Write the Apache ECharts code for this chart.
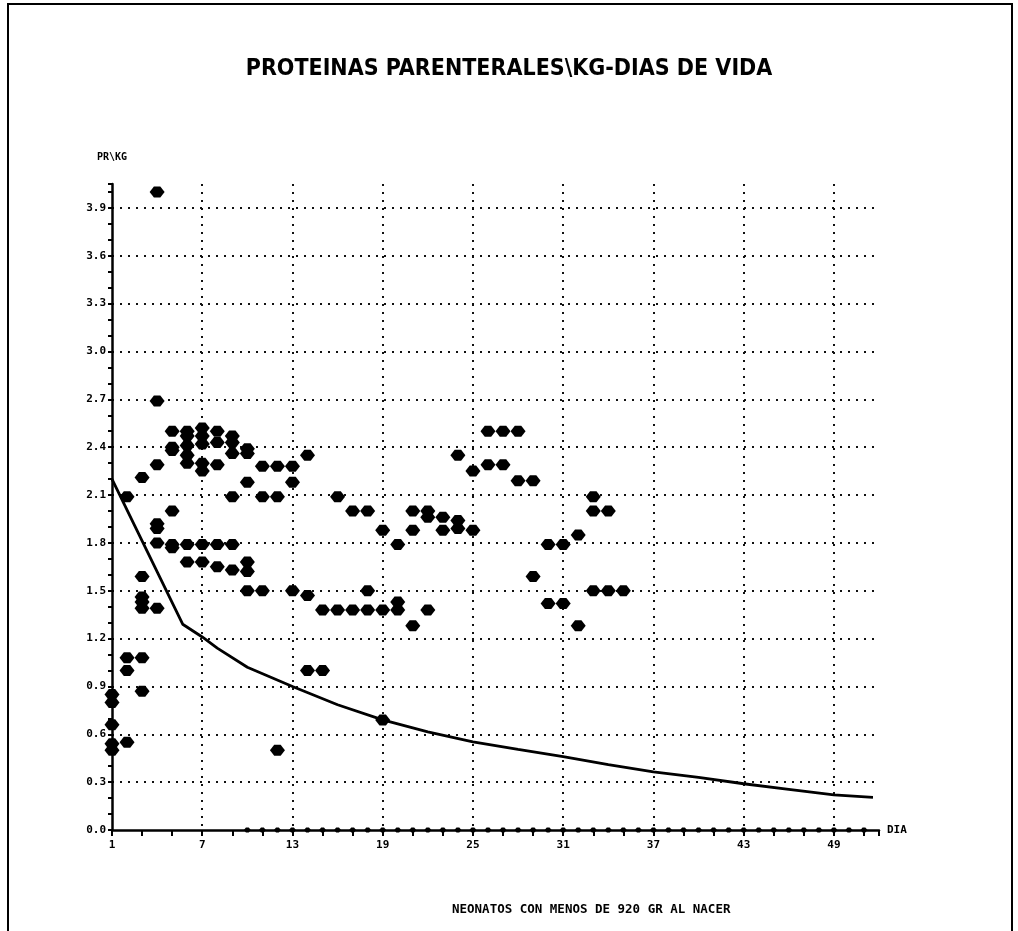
<!DOCTYPE html>
<html>
<head>
<meta charset="utf-8">
<script src="https://cdn.jsdelivr.net/npm/echarts@6/dist/echarts.min.js"></script>
<style>
  html, body { margin: 0; padding: 0; background: #fff; }
  #chart { width: 1018px; height: 931px; }
</style>
</head>
<body>
<div id="chart"></div>
<script>
  // puntos (dia, proteinas/kg)
  var scatterDays = [
    1, 1, 1, 1, 1,
    2, 2, 2, 2,
    3, 3, 3, 3, 3, 3, 3,
    4, 4, 4, 4, 4, 4, 4,
    5, 5, 5, 5, 5, 5,
    6, 6, 6, 6, 6, 6, 6,
    7, 7, 7, 7, 7, 7, 7,
    8, 8, 8, 8, 8,
    9, 9, 9, 9, 9, 9,
    10, 10, 10, 10, 10, 10,
    11, 11, 11,
    12, 12, 12,
    13, 13, 13,
    14, 14, 14,
    15, 15,
    16, 16,
    17, 17,
    18, 18, 18,
    19, 19, 19,
    20, 20, 20,
    21, 21, 21,
    22, 22, 22,
    23, 23,
    24, 24, 24,
    25, 25,
    26, 26,
    27, 27,
    28, 28,
    29, 29,
    30, 30,
    31, 31,
    32, 32,
    33, 33, 33,
    34, 34,
    35
  ];
  var scatterValues = [
    0.85, 0.8, 0.66, 0.54, 0.5,
    2.09, 1.08, 1.0, 0.55,
    2.21, 1.59, 1.46, 1.43, 1.39, 1.08, 0.87,
    4.0, 2.69, 2.29, 1.92, 1.89, 1.8, 1.39,
    2.5, 2.4, 2.38, 2.0, 1.79, 1.77,
    2.5, 2.47, 2.41, 2.35, 2.3, 1.79, 1.68,
    2.52, 2.47, 2.42, 2.3, 2.25, 1.79, 1.68,
    2.5, 2.43, 2.29, 1.79, 1.65,
    2.47, 2.43, 2.36, 2.09, 1.79, 1.63,
    2.39, 2.36, 2.18, 1.68, 1.62, 1.5,
    2.28, 2.09, 1.5,
    2.28, 2.09, 0.5,
    2.28, 2.18, 1.5,
    2.35, 1.47, 1.0,
    1.38, 1.0,
    2.09, 1.38,
    2.0, 1.38,
    2.0, 1.5, 1.38,
    1.88, 1.38, 0.69,
    1.79, 1.43, 1.38,
    2.0, 1.88, 1.28,
    2.0, 1.96, 1.38,
    1.96, 1.88,
    2.35, 1.94, 1.89,
    2.25, 1.88,
    2.5, 2.29,
    2.5, 2.29,
    2.5, 2.19,
    2.19, 1.59,
    1.79, 1.42,
    1.79, 1.42,
    1.85, 1.28,
    2.09, 2.0, 1.5,
    2.0, 1.5,
    1.5
  ];

  // curva de referencia
  var curveDays = [1, 5.7, 7, 8, 10, 13, 16, 19, 22, 25, 28, 31, 34, 37, 40, 43, 46, 49, 51.6];
  var curveValues = [2.2, 1.29, 1.21, 1.14, 1.02, 0.9, 0.785, 0.69, 0.615, 0.553, 0.505, 0.46, 0.41, 0.365, 0.33, 0.29, 0.255, 0.22, 0.205];

  // marcas en cero
  var zeroDays = [10, 11, 12, 13, 14, 15, 16, 17, 18, 19, 20, 21, 22, 23, 24, 25, 26, 27, 28, 29, 30,
    31, 32, 33, 34, 35, 36, 37, 38, 39, 40, 41, 42, 43, 44, 45, 46, 47, 48, 49, 50, 51];

  var xTickLabels = ['1', '7', '13', '19', '25', '31', '37', '43', '49'];
  var yTickLabels = ['0.0', '0.3', '0.6', '0.9', '1.2', '1.5', '1.8', '2.1', '2.4', '2.7', '3.0', '3.3', '3.6', '3.9'];

  // eje x desplazado: dia 1 -> 0
  function pairs(xs, ys) {
    return xs.map(function (d, i) { return [d - 1, ys[i]]; });
  }

  var mono = '"DejaVu Sans Mono", monospace';
  var dotted = { type: [2, 6], width: 2, color: '#111' };

  var myChart = echarts.init(document.getElementById('chart'));
  var option = {
    animation: false,
    backgroundColor: '#fff',
    title: {
      text: 'PROTEINAS PARENTERALES\\KG-DIAS DE VIDA',
      left: 'center',
      top: 53,
      textStyle: {
        fontFamily: '"Liberation Sans Narrow", "DejaVu Sans Condensed", sans-serif',
        fontWeight: 'bold',
        fontSize: 23,
        color: '#000'
      }
    },
    graphic: [
      {
        type: 'polyline',
        shape: { points: [[8, 940], [8, 4], [1012, 4], [1012, 940]] },
        style: { stroke: '#000', lineWidth: 2, fill: null }
      },
      {
        type: 'text',
        left: 452,
        top: 903,
        style: {
          text: 'NEONATOS CON MENOS DE 920 GR AL NACER',
          font: 'bold 12.5px "DejaVu Sans Mono", monospace',
          fill: '#000'
        }
      }
    ],
    grid: { left: 112, right: 139, top: 184, bottom: 101 },
    xAxis: {
      type: 'value',
      min: 0,
      max: 51,
      interval: 6,
      name: 'DIA',
      nameLocation: 'end',
      nameGap: 8,
      nameTextStyle: { fontFamily: mono, fontWeight: 'bold', fontSize: 11, color: '#000' },
      axisLine: { lineStyle: { color: '#000', width: 2.5 } },
      axisTick: { length: 6, lineStyle: { color: '#000', width: 2 } },
      minorTick: { show: true, splitNumber: 3, length: 6, lineStyle: { color: '#000', width: 2 } },
      axisLabel: {
        margin: 10,
        fontFamily: mono,
        fontWeight: 'bold',
        fontSize: 11,
        color: '#000',
        showMaxLabel: false,
        formatter: function (v) {
          var idx = Math.round(v / 6);
          return (Math.abs(v - idx * 6) < 1e-6 && xTickLabels[idx]) ? xTickLabels[idx] : '';
        }
      },
      splitLine: { show: true, showMinLine: false, showMaxLine: false, lineStyle: dotted }
    },
    yAxis: {
      type: 'value',
      min: 0,
      max: 4.05,
      interval: 0.3,
      name: 'PR\\KG',
      nameLocation: 'end',
      nameGap: 22,
      nameTextStyle: { fontFamily: mono, fontWeight: 'bold', fontSize: 10, color: '#000' },
      axisLine: { show: true, lineStyle: { color: '#000', width: 2.5 } },
      axisTick: { show: true, length: 4, lineStyle: { color: '#000', width: 2 } },
      minorTick: { show: true, splitNumber: 3, length: 4, lineStyle: { color: '#000', width: 2 } },
      axisLabel: {
        margin: 6,
        fontFamily: mono,
        fontWeight: 'bold',
        fontSize: 11,
        color: '#000',
        showMaxLabel: false,
        formatter: function (v) {
          var idx = Math.round(v / 0.3);
          return yTickLabels[idx] || '';
        }
      },
      splitLine: { show: true, showMinLine: false, showMaxLine: false, lineStyle: dotted }
    },
    series: [
      {
        name: 'curva',
        type: 'line',
        data: pairs(curveDays, curveValues),
        showSymbol: false,
        lineStyle: { color: '#000', width: 2.8 },
        z: 3
      },
      {
        name: 'ceros',
        type: 'scatter',
        data: pairs(zeroDays, zeroDays.map(function () { return 0; })),
        symbol: 'path://M0,3 L3,0 L7,0 L10,3 L7,6 L3,6 Z',
        symbolSize: [7, 5],
        itemStyle: { color: '#000', opacity: 1 },
        z: 4
      },
      {
        name: 'pacientes',
        type: 'scatter',
        data: pairs(scatterDays, scatterValues),
        symbol: 'path://M0,5 L4,0 L10,0 L14,5 L10,10 L4,10 Z',
        symbolSize: [15, 11],
        itemStyle: { color: '#000', opacity: 1 },
        z: 5
      }
    ]
  };
  myChart.setOption(option);
</script>
</body>
</html>
